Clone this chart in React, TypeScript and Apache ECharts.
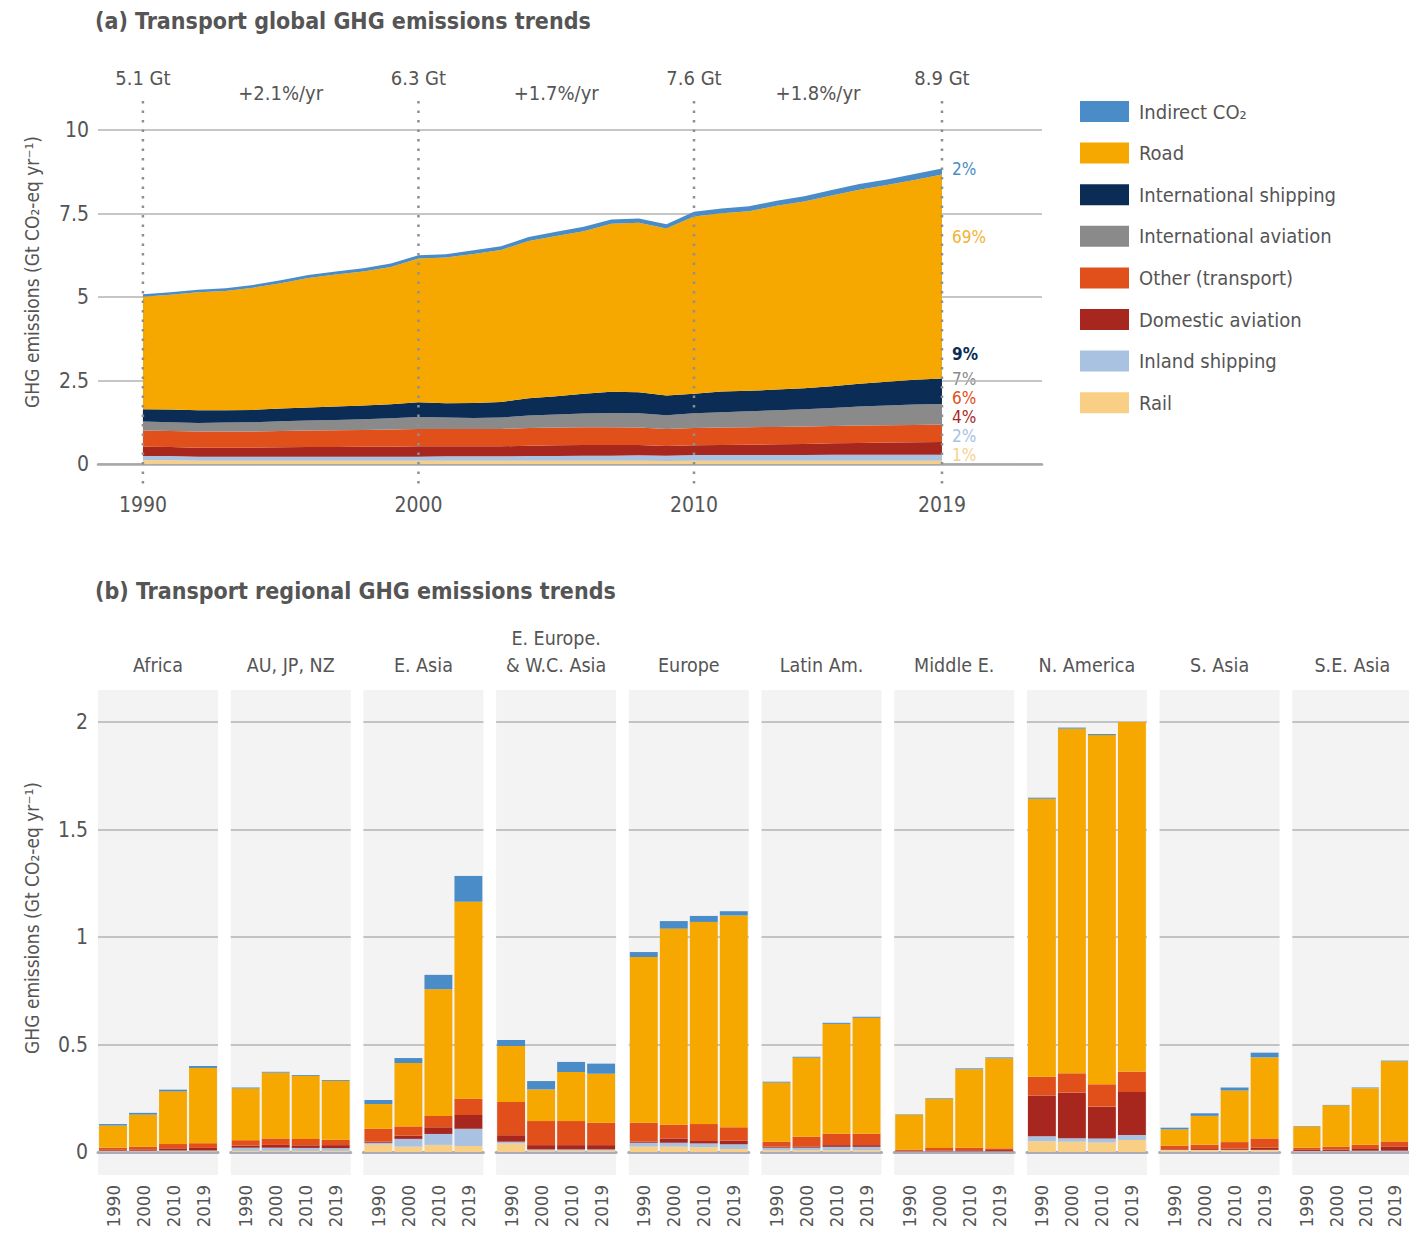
import React, { useEffect, useRef } from "react";
import * as echarts from "echarts";

// ---------- (a) global data, Gt CO2-eq per year ----------
const years = [1990, 1991, 1992, 1993, 1994, 1995, 1996, 1997, 1998, 1999, 2000, 2001, 2002, 2003, 2004, 2005, 2006, 2007, 2008, 2009, 2010, 2011, 2012, 2013, 2014, 2015, 2016, 2017, 2018, 2019];
const globalRail = [0.11, 0.11, 0.10, 0.10, 0.10, 0.10, 0.10, 0.10, 0.10, 0.10, 0.10, 0.10, 0.10, 0.10, 0.10, 0.10, 0.10, 0.10, 0.10, 0.09, 0.10, 0.10, 0.10, 0.10, 0.10, 0.10, 0.10, 0.10, 0.10, 0.10];
const globalInland = [0.13, 0.13, 0.12, 0.12, 0.12, 0.12, 0.12, 0.12, 0.12, 0.12, 0.12, 0.13, 0.13, 0.13, 0.14, 0.14, 0.15, 0.15, 0.16, 0.16, 0.17, 0.17, 0.17, 0.17, 0.17, 0.18, 0.18, 0.18, 0.18, 0.18];
const globalDomAviation = [0.28, 0.27, 0.27, 0.27, 0.27, 0.28, 0.29, 0.29, 0.30, 0.30, 0.31, 0.30, 0.30, 0.30, 0.31, 0.32, 0.32, 0.32, 0.31, 0.29, 0.29, 0.30, 0.31, 0.32, 0.33, 0.34, 0.35, 0.36, 0.37, 0.38];
const globalOther = [0.48, 0.48, 0.48, 0.48, 0.48, 0.49, 0.49, 0.50, 0.50, 0.51, 0.52, 0.52, 0.52, 0.52, 0.53, 0.53, 0.53, 0.53, 0.52, 0.51, 0.52, 0.52, 0.52, 0.52, 0.52, 0.52, 0.52, 0.52, 0.52, 0.52];
const globalIntAviation = [0.27, 0.26, 0.26, 0.27, 0.28, 0.29, 0.30, 0.31, 0.32, 0.34, 0.36, 0.34, 0.33, 0.34, 0.37, 0.39, 0.41, 0.43, 0.43, 0.41, 0.44, 0.46, 0.48, 0.50, 0.52, 0.54, 0.57, 0.59, 0.61, 0.62];
const globalIntShipping = [0.37, 0.38, 0.38, 0.37, 0.37, 0.38, 0.39, 0.40, 0.41, 0.42, 0.44, 0.43, 0.45, 0.47, 0.52, 0.55, 0.59, 0.63, 0.63, 0.59, 0.58, 0.62, 0.61, 0.62, 0.63, 0.65, 0.68, 0.71, 0.74, 0.76];
const globalRoad = [3.37, 3.44, 3.53, 3.57, 3.66, 3.75, 3.88, 3.95, 4.01, 4.11, 4.30, 4.36, 4.46, 4.55, 4.71, 4.80, 4.87, 5.03, 5.07, 5.00, 5.31, 5.34, 5.38, 5.50, 5.59, 5.71, 5.81, 5.89, 5.98, 6.11];
const globalIndirect = [0.07, 0.07, 0.08, 0.08, 0.08, 0.09, 0.09, 0.09, 0.10, 0.10, 0.10, 0.10, 0.11, 0.11, 0.12, 0.12, 0.13, 0.13, 0.13, 0.13, 0.14, 0.14, 0.15, 0.15, 0.16, 0.16, 0.17, 0.17, 0.18, 0.18];

const milestoneYears = [1990, 2000, 2010, 2019];
const milestoneLabels = ["5.1 Gt", "6.3 Gt", "7.6 Gt", "8.9 Gt"];
const growthYears = [1995, 2005, 2014.5];
const growthLabels = ["+2.1%/yr", "+1.7%/yr", "+1.8%/yr"];
const shareLabels = ["2%", "69%", "9%", "7%", "6%", "4%", "2%", "1%"];
const globalTicks = [1990, 2000, 2010, 2019];

// ---------- (b) regional data: [region][1990, 2000, 2010, 2019] ----------
const regions = ["Africa", "AU, JP, NZ", "E. Asia", "E. Europe.\n& W.C. Asia", "Europe", "Latin Am.", "Middle E.", "N. America", "S. Asia", "S.E. Asia"];
const decadeLabels = ["1990", "2000", "2010", "2019"];
const regRail = [[0.003, 0.003, 0.003, 0.003], [0.005, 0.005, 0.005, 0.005], [0.035, 0.025, 0.033, 0.028], [0.040, 0.006, 0.006, 0.006], [0.025, 0.025, 0.022, 0.014], [0.008, 0.008, 0.008, 0.008], [0.001, 0.001, 0.001, 0.001], [0.050, 0.048, 0.044, 0.056], [0.008, 0.008, 0.008, 0.008], [0.002, 0.002, 0.002, 0.002]];
const regInland = [[0.003, 0.003, 0.004, 0.004], [0.015, 0.015, 0.014, 0.013], [0.008, 0.036, 0.051, 0.080], [0.008, 0.006, 0.006, 0.006], [0.018, 0.018, 0.018, 0.022], [0.012, 0.012, 0.016, 0.016], [0.002, 0.002, 0.002, 0.002], [0.023, 0.016, 0.019, 0.023], [0.002, 0.002, 0.002, 0.002], [0.003, 0.003, 0.004, 0.004]];
const regDomAviation = [[0.004, 0.006, 0.010, 0.012], [0.010, 0.013, 0.012, 0.014], [0.005, 0.015, 0.031, 0.064], [0.030, 0.020, 0.020, 0.020], [0.005, 0.020, 0.011, 0.017], [0.005, 0.006, 0.008, 0.008], [0.002, 0.004, 0.005, 0.006], [0.190, 0.212, 0.148, 0.200], [0.003, 0.004, 0.006, 0.010], [0.005, 0.006, 0.008, 0.020]];
const regOther = [[0.010, 0.012, 0.020, 0.022], [0.025, 0.030, 0.030, 0.025], [0.060, 0.043, 0.053, 0.076], [0.155, 0.112, 0.112, 0.104], [0.088, 0.064, 0.079, 0.062], [0.023, 0.045, 0.053, 0.053], [0.006, 0.012, 0.012, 0.008], [0.087, 0.090, 0.104, 0.095], [0.016, 0.020, 0.030, 0.043], [0.010, 0.014, 0.020, 0.023]];
const regRoad = [[0.103, 0.150, 0.245, 0.350], [0.241, 0.306, 0.293, 0.274], [0.115, 0.295, 0.589, 0.916], [0.260, 0.147, 0.228, 0.228], [0.771, 0.912, 0.940, 0.985], [0.275, 0.368, 0.511, 0.539], [0.162, 0.228, 0.365, 0.419], [1.293, 1.603, 1.624, 1.657], [0.076, 0.134, 0.240, 0.377], [0.099, 0.192, 0.263, 0.373]];
const regIndirect = [[0.007, 0.008, 0.008, 0.009], [0.004, 0.004, 0.004, 0.004], [0.019, 0.023, 0.067, 0.120], [0.028, 0.039, 0.047, 0.047], [0.023, 0.035, 0.028, 0.020], [0.004, 0.004, 0.005, 0.005], [0.002, 0.003, 0.004, 0.004], [0.005, 0.005, 0.005, 0.005], [0.008, 0.012, 0.014, 0.022], [0.002, 0.002, 0.003, 0.003]];

// ---------- styling ----------
const FONT = '"Liberation Sans Narrow", "DejaVu Sans Condensed", Roboto, sans-serif';
const TEXT = "#555555";
const GRID = "#b3b3b3";
const C = {
  rail: "#f9cf86",
  inland: "#a9c2e2",
  domAv: "#a7271f",
  other: "#e1501b",
  intAv: "#8a8a8a",
  intShip: "#0b2d55",
  road: "#f6a800",
  indirect: "#4a8cc8",
};
const shareColors = [C.indirect, "#f2b333", C.intShip, "#8a8a8a", C.other, C.domAv, C.inland, "#f5d28f"];
const shareY = [169, 237, 354, 379, 398, 417, 436, 455];

const PANEL_LEFT = 98;
const PANEL_PITCH = 132.7;
const PANEL_W = 120;

export default function App() {
  const ref = useRef<HTMLDivElement>(null);

  useEffect(() => {
    document.body.style.margin = "0";
    const chart = echarts.init(ref.current as HTMLDivElement, null, { renderer: "svg" });

    const globalDefs = [
      { name: "Rail", data: globalRail, color: C.rail },
      { name: "Inland shipping", data: globalInland, color: C.inland },
      { name: "Domestic aviation", data: globalDomAviation, color: C.domAv },
      { name: "Other (transport)", data: globalOther, color: C.other },
      { name: "International aviation", data: globalIntAviation, color: C.intAv },
      { name: "International shipping", data: globalIntShipping, color: C.intShip },
      { name: "Road", data: globalRoad, color: C.road },
      { name: "Indirect CO₂", data: globalIndirect, color: C.indirect },
    ];

    const regDefs = [
      { name: "Rail", data: regRail, color: C.rail },
      { name: "Inland shipping", data: regInland, color: C.inland },
      { name: "Domestic aviation", data: regDomAviation, color: C.domAv },
      { name: "Other (transport)", data: regOther, color: C.other },
      { name: "Road", data: regRoad, color: C.road },
      { name: "Indirect CO₂", data: regIndirect, color: C.indirect },
    ];

    const grids: any[] = [{ left: 98, top: 130, width: 944, height: 334 }];
    const xAxes: any[] = [
      {
        type: "value",
        gridIndex: 0,
        min: 1988.37,
        max: 2022.63,
        splitLine: { show: false },
        axisTick: { show: false },
        axisLine: { show: true, lineStyle: { color: "#a8a8a8", width: 2.5 } },
        axisLabel: {
          customValues: globalTicks,
          formatter: (v: number) => String(v),
          color: TEXT,
          fontSize: 21,
          fontFamily: FONT,
          margin: 30,
        },
      },
    ];
    const yAxes: any[] = [
      {
        type: "value",
        gridIndex: 0,
        min: 0,
        max: 10,
        interval: 2.5,
        axisLine: { show: false },
        axisTick: { show: false },
        splitLine: { lineStyle: { color: GRID, width: 1.5 } },
        axisLabel: { color: TEXT, fontSize: 21, fontFamily: FONT, margin: 9 },
      },
    ];

    // value first, year second, so that the library stacks on the value dimension
    const series: any[] = globalDefs.map((d) => ({
      type: "line",
      name: d.name,
      xAxisIndex: 0,
      yAxisIndex: 0,
      stack: "global",
      symbol: "none",
      silent: true,
      data: years.map((y, i) => [d.data[i], y]),
      encode: { x: 1, y: 0 },
      lineStyle: { width: 0, color: d.color },
      itemStyle: { color: d.color },
      areaStyle: { color: d.color, opacity: 1 },
      z: 2,
    }));

    // dotted milestone lines + totals
    series.push({
      type: "custom",
      xAxisIndex: 0,
      yAxisIndex: 0,
      clip: false,
      silent: true,
      z: 5,
      data: milestoneYears.map((y) => [y, 0]),
      renderItem: (params: any, api: any) => {
        const x = api.value(0);
        const base = api.coord([x, 0]);
        const top = api.coord([x, 10]);
        return {
          type: "group",
          children: [
            {
              type: "line",
              shape: { x1: base[0], y1: top[1] - 29, x2: base[0], y2: base[1] + 21 },
              style: { stroke: "#8f8f8f", lineWidth: 2.5, lineDash: [2.5, 7] },
            },
            {
              type: "text",
              x: base[0],
              y: top[1] - 52,
              style: {
                text: milestoneLabels[params.dataIndex],
                fill: TEXT,
                font: `20px ${FONT}`,
                align: "center",
                verticalAlign: "middle",
              },
            },
          ],
        };
      },
    });
    // growth rates
    series.push({
      type: "custom",
      xAxisIndex: 0,
      yAxisIndex: 0,
      clip: false,
      silent: true,
      z: 5,
      data: growthYears.map((y) => [y, 0]),
      renderItem: (params: any, api: any) => {
        const p = api.coord([api.value(0), 10]);
        return {
          type: "text",
          x: p[0],
          y: p[1] - 37,
          style: {
            text: growthLabels[params.dataIndex],
            fill: TEXT,
            font: `20px ${FONT}`,
            align: "center",
            verticalAlign: "middle",
          },
        };
      },
    });

    const graphics: any[] = [
      {
        type: "text",
        x: 95,
        y: 21,
        style: { text: "(a) Transport global GHG emissions trends", fill: TEXT, font: `bold 23px ${FONT}`, textAlign: "left", textVerticalAlign: "middle" },
      },
      {
        type: "text",
        x: 95,
        y: 591,
        style: { text: "(b) Transport regional GHG emissions trends", fill: TEXT, font: `bold 23px ${FONT}`, textAlign: "left", textVerticalAlign: "middle" },
      },
      {
        type: "text",
        x: 32,
        y: 272,
        rotation: Math.PI / 2,
        style: { text: "GHG emissions (Gt CO₂-eq yr⁻¹)", fill: TEXT, font: `19px ${FONT}`, textAlign: "center", textVerticalAlign: "middle" },
      },
      {
        type: "text",
        x: 32,
        y: 918,
        rotation: Math.PI / 2,
        style: { text: "GHG emissions (Gt CO₂-eq yr⁻¹)", fill: TEXT, font: `19px ${FONT}`, textAlign: "center", textVerticalAlign: "middle" },
      },
    ];
    shareLabels.forEach((t, i) => {
      graphics.push({
        type: "text",
        x: 952,
        y: shareY[i],
        style: { text: t, fill: shareColors[i], font: `${i === 2 ? "bold " : ""}17px ${FONT}`, textAlign: "left", textVerticalAlign: "middle" },
      });
    });

    regions.forEach((reg, r) => {
      const left = PANEL_LEFT + r * PANEL_PITCH;
      graphics.push({
        type: "rect",
        z: -1,
        silent: true,
        shape: { x: left, y: 690, width: PANEL_W, height: 485 },
        style: { fill: "#f3f3f3" },
      });
      graphics.push({
        type: "text",
        x: left + PANEL_W / 2,
        y: 679,
        style: { text: reg, fill: TEXT, font: `19.5px ${FONT}`, lineHeight: 27, textAlign: "center", textVerticalAlign: "bottom" },
      });
      const gi = r + 1;
      grids.push({ left, top: 722, width: PANEL_W, height: 430 });
      xAxes.push({
        type: "category",
        gridIndex: gi,
        data: decadeLabels,
        axisTick: { show: false },
        axisLine: { show: true, lineStyle: { color: "#a9adb3", width: 3 } },
        axisLabel: { interval: 0, rotate: 90, color: TEXT, fontSize: 18.5, fontFamily: FONT, margin: 33 },
      });
      yAxes.push({
        type: "value",
        gridIndex: gi,
        min: 0,
        max: 2,
        interval: 0.5,
        axisLine: { show: false },
        axisTick: { show: false },
        splitLine: { lineStyle: { color: GRID, width: 1.5 } },
        axisLabel: { show: r === 0, color: TEXT, fontSize: 21, fontFamily: FONT, margin: 10 },
      });
      regDefs.forEach((d) => {
        series.push({
          type: "bar",
          name: d.name,
          xAxisIndex: gi,
          yAxisIndex: gi,
          stack: "reg" + r,
          barWidth: "93%",
          silent: true,
          data: d.data[r],
          itemStyle: { color: d.color },
          z: 2,
        });
      });
    });

    chart.setOption({
      animation: false,
      backgroundColor: "#ffffff",
      textStyle: { fontFamily: FONT },
      legend: {
        left: 1075,
        top: 96,
        orient: "vertical",
        icon: "rect",
        itemWidth: 49,
        itemHeight: 21,
        itemGap: 20.6,
        selectedMode: false,
        data: ["Indirect CO₂", "Road", "International shipping", "International aviation", "Other (transport)", "Domestic aviation", "Inland shipping", "Rail"],
        textStyle: { color: TEXT, fontSize: 20, fontFamily: FONT, lineHeight: 21, padding: [0, 0, 0, 5] },
      },
      grid: grids,
      xAxis: xAxes,
      yAxis: yAxes,
      series,
      graphic: graphics,
    });

    return () => chart.dispose();
  }, []);

  return <div ref={ref} style={{ width: 1409, height: 1233 }} />;
}
